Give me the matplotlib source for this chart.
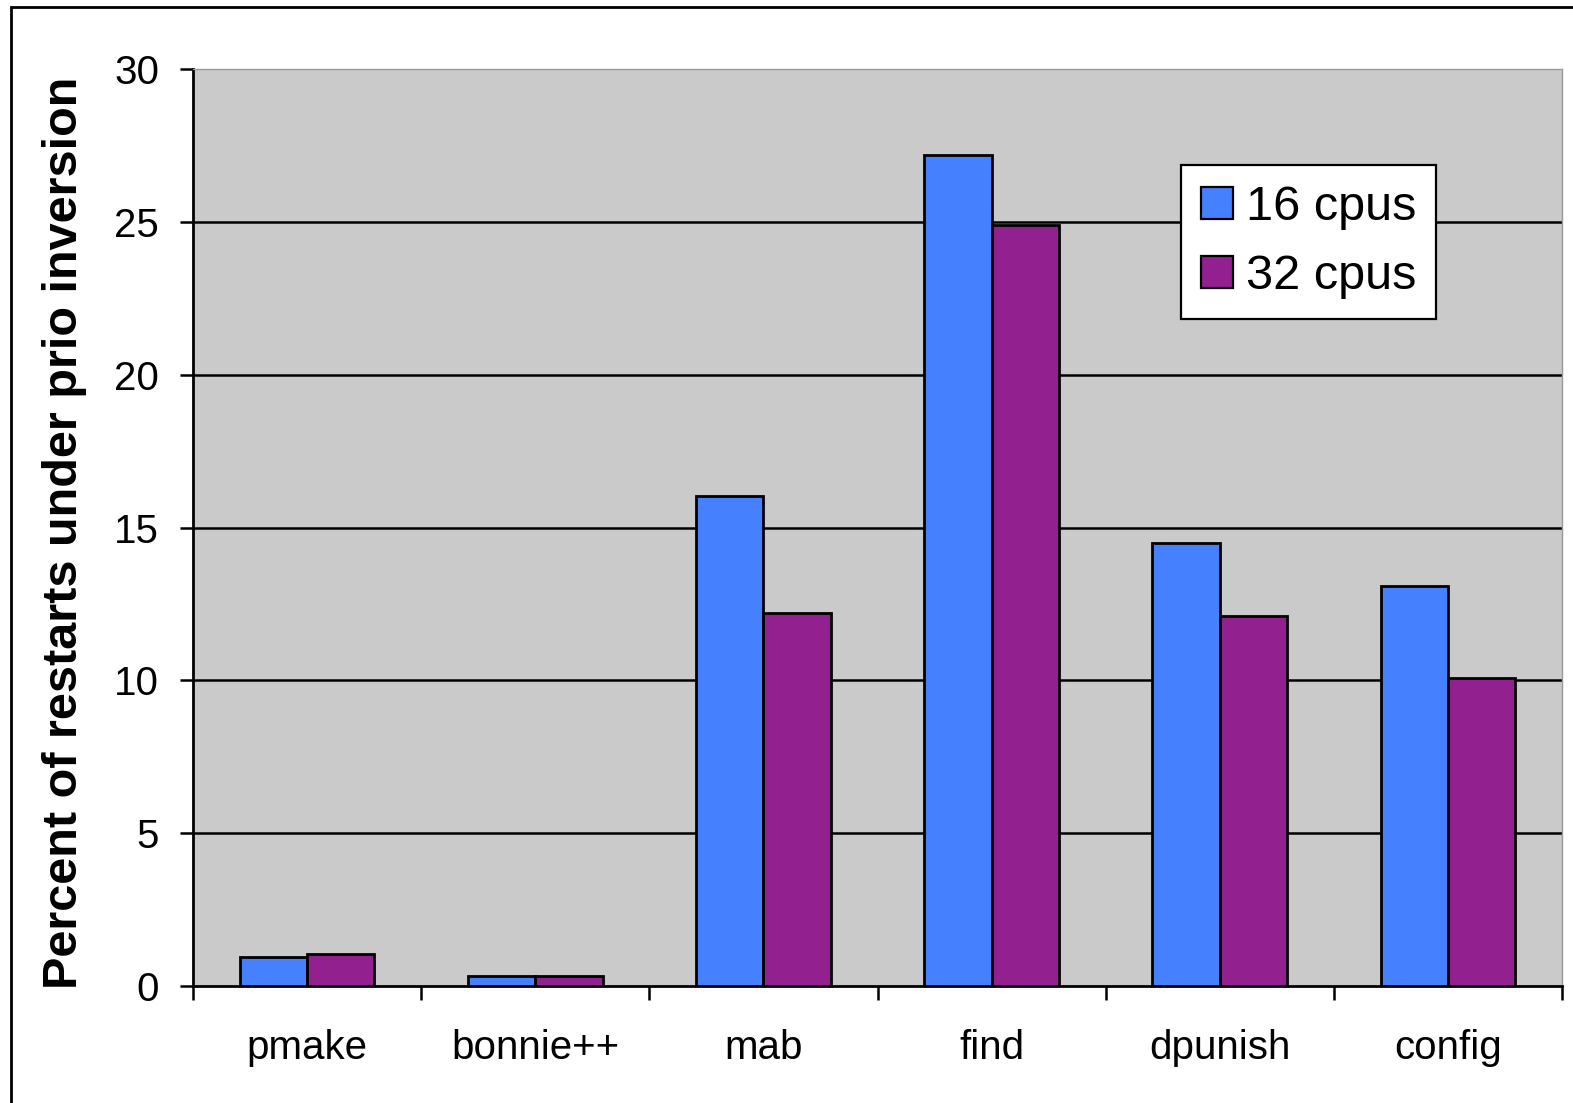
import matplotlib
matplotlib.use("Agg")
import matplotlib.pyplot as plt
from matplotlib.patches import Rectangle
import numpy as np

# Benchmarks and measured share of restarts under priority inversion (%)
categories = ["pmake", "bonnie++", "mab", "find", "dpunish", "config"]
cpus16 = [0.95, 0.33, 16.05, 27.2, 14.5, 13.08]
cpus32 = [1.05, 0.33, 12.2, 24.9, 12.1, 10.08]
series_labels = ["16 cpus", "32 cpus"]
yticks = [0, 5, 10, 15, 20, 25, 30]

W, H = 1573, 1103
fig = plt.figure(figsize=(W / 100, H / 100), dpi=100)
fig.patch.set_facecolor("white")

left, right, top, bottom = 193, 1562, 69.3, 986
ax = fig.add_axes([left / W, 1 - bottom / H, (right - left) / W, (bottom - top) / H])
ax.set_facecolor("#CACACA")

x = np.arange(len(categories))
bw = 0.295
blue = "#4580FF"
purple = "#92208E"
ax.bar(x - bw / 2, cpus16, bw, color=blue, edgecolor="black", linewidth=2.0,
       label=series_labels[0], zorder=3)
ax.bar(x + bw / 2, cpus32, bw, color=purple, edgecolor="black", linewidth=2.0,
       label=series_labels[1], zorder=3)

ax.set_xlim(-0.5, len(categories) - 0.5)
ax.set_ylim(0, 30)

# horizontal gridlines
for v in yticks[1:-1]:
    ax.axhline(v, color="black", linewidth=1.8, zorder=1)

ax.spines["left"].set_linewidth(2.0)
ax.spines["bottom"].set_linewidth(2.0)
for s in ("top", "right"):
    ax.spines[s].set_color("#9A9A9A")
    ax.spines[s].set_linewidth(1.0)

tick_font = {"family": ["Liberation Sans", "DejaVu Sans"], "size": 29}
ax.set_yticks(yticks)
ax.set_yticklabels([str(v) for v in yticks], fontdict=tick_font)
ax.tick_params(axis="y", direction="out", length=9.5, width=1.8, pad=15, left=True)

ax.set_xticks(x)
ax.set_xticklabels(categories, fontdict=tick_font)
ax.set_xticks(np.arange(-0.5, len(categories)), minor=True)
ax.tick_params(axis="x", which="major", length=0, pad=31)
ax.tick_params(axis="x", which="minor", direction="out", length=10, width=1.8)

fig.text(77 / W, 1 - 533 / H, "Percent of restarts under prio inversion",
         rotation=90, rotation_mode="anchor", ha="center", va="baseline",
         fontsize=35, fontweight="bold", family=["Liberation Sans", "DejaVu Sans"])

leg = ax.legend(loc="upper left", bbox_to_anchor=(1181 / W, 1 - 165 / H),
                bbox_transform=fig.transFigure, borderaxespad=0,
                prop={"family": ["Liberation Sans", "DejaVu Sans"], "size": 35},
                handlelength=0.64, handleheight=0.64, handletextpad=0.27,
                labelspacing=0.48, borderpad=0.42, fancybox=False, framealpha=1,
                edgecolor="black")
leg.get_frame().set_linewidth(1.6)
leg.set_zorder(5)
for h in leg.legend_handles:
    h.set_linewidth(1.6)

# outer frame around the figure
fig.add_artist(Rectangle((11 / W, -0.1), 1.2, 1.1 - 7 / H, transform=fig.transFigure,
                         fill=False, edgecolor="black", linewidth=2.0, clip_on=False))

fig.savefig("out.png", dpi=100)
